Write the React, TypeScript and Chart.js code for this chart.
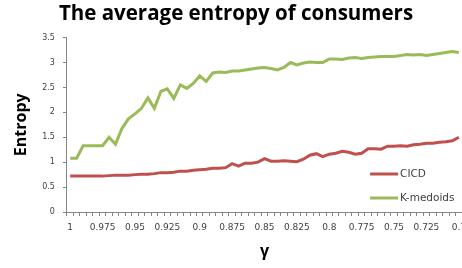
import React, { useEffect, useRef } from "react";
import { Chart, registerables } from "chart.js";

Chart.register(...registerables);

const gammaLabels = [
  "1", "0.995", "0.99", "0.985", "0.98", "0.975", "0.97", "0.965", "0.96", "0.955",
  "0.95", "0.945", "0.94", "0.935", "0.93", "0.925", "0.92", "0.915", "0.91", "0.905",
  "0.9", "0.895", "0.89", "0.885", "0.88", "0.875", "0.87", "0.865", "0.86", "0.855",
  "0.85", "0.845", "0.84", "0.835", "0.83", "0.825", "0.82", "0.815", "0.81", "0.805",
  "0.8", "0.795", "0.79", "0.785", "0.78", "0.775", "0.77", "0.765", "0.76", "0.755",
  "0.75", "0.745", "0.74", "0.735", "0.73", "0.725", "0.72", "0.715", "0.71", "0.705",
  "0.7",
];

const cicd = [
  0.72, 0.72, 0.72, 0.72, 0.72,
  0.72, 0.73, 0.74, 0.74, 0.74,
  0.75, 0.76, 0.76, 0.77, 0.79,
  0.79, 0.80, 0.82, 0.82, 0.84,
  0.85, 0.86, 0.88, 0.88, 0.89,
  0.97, 0.92, 0.98, 0.98, 1.00,
  1.07, 1.02, 1.02, 1.03, 1.02,
  1.01, 1.06, 1.14, 1.17, 1.11,
  1.16, 1.18, 1.22, 1.20, 1.16,
  1.18, 1.27, 1.27, 1.26, 1.32,
  1.32, 1.33, 1.32, 1.35, 1.36,
  1.38, 1.38, 1.40, 1.41, 1.43,
  1.50,
];

const kMedoids = [
  1.08, 1.08, 1.33, 1.33, 1.33,
  1.33, 1.50, 1.36, 1.68, 1.87,
  1.97, 2.08, 2.29, 2.08, 2.42,
  2.47, 2.28, 2.55, 2.48, 2.58,
  2.73, 2.62, 2.79, 2.81, 2.80,
  2.83, 2.83, 2.85, 2.87, 2.89,
  2.90, 2.88, 2.85, 2.90, 3.00,
  2.95, 2.99, 3.01, 3.00, 3.00,
  3.07, 3.07, 3.06, 3.09, 3.10,
  3.08, 3.10, 3.11, 3.12, 3.12,
  3.12, 3.14, 3.16, 3.15, 3.16,
  3.14, 3.16, 3.18, 3.20, 3.22,
  3.20,
];

const seriesNames = ["CICD", "K-medoids"];
const seriesColors = ["#C0504D", "#9BBB59"];

const AXIS_GRAY = "#868686";
const TEXT_GRAY = "#404040";

const legendPlugin = {
  id: "insideLegend",
  afterDatasetsDraw(chart: any) {
    const { ctx, chartArea } = chart;
    const x0 = chartArea.right - 92;
    const ys = [chartArea.bottom - 38, chartArea.bottom - 14];
    ctx.save();
    chart.data.datasets.forEach((ds: any, i: number) => {
      ctx.strokeStyle = ds.borderColor;
      ctx.lineWidth = 3;
      ctx.beginPath();
      ctx.moveTo(x0, ys[i]);
      ctx.lineTo(x0 + 28, ys[i]);
      ctx.stroke();
      ctx.fillStyle = TEXT_GRAY;
      ctx.font = "10.5px 'DejaVu Sans'";
      ctx.textBaseline = "middle";
      ctx.textAlign = "left";
      ctx.fillText(ds.label, x0 + 30, ys[i]);
    });
    ctx.restore();
  },
};

export default function App() {
  const canvasRef = useRef<HTMLCanvasElement | null>(null);

  useEffect(() => {
    if (!canvasRef.current) return;
    const chart = new Chart(canvasRef.current, {
      type: "line",
      data: {
        labels: gammaLabels,
        datasets: [
          {
            label: seriesNames[0],
            data: cicd,
            borderColor: seriesColors[0],
            backgroundColor: seriesColors[0],
            borderWidth: 3,
            pointRadius: 0,
            tension: 0,
          },
          {
            label: seriesNames[1],
            data: kMedoids,
            borderColor: seriesColors[1],
            backgroundColor: seriesColors[1],
            borderWidth: 3,
            pointRadius: 0,
            tension: 0,
          },
        ],
      },
      options: {
        responsive: false,
        animation: false,
        layout: { padding: { left: 0, right: 0, top: 0, bottom: 0 } },
        plugins: {
          legend: { display: false },
          tooltip: { enabled: false },
          title: {
            display: true,
            text: "The average entropy of consumers",
            color: "#000000",
            font: { family: "'Open Sans'", size: 20.5, weight: "bold" },
            padding: { top: 2, bottom: 11 },
          },
        },
        scales: {
          x: {
            type: "category",
            offset: true,
            grid: {
              display: true,
              offset: true,
              drawOnChartArea: false,
              drawTicks: true,
              tickLength: 4,
              color: AXIS_GRAY,
            },
            border: { display: true, color: AXIS_GRAY, width: 1 },
            ticks: {
              autoSkip: false,
              maxRotation: 0,
              minRotation: 0,
              color: TEXT_GRAY,
              padding: 6,
              font: { family: "'DejaVu Sans'", size: 9 },
              callback: (_v: any, i: number) => (i % 5 === 0 ? gammaLabels[i] : ""),
            },
            title: {
              display: true,
              text: "γ",
              color: "#000000",
              font: { family: "'Open Sans'", size: 16, weight: "bold" },
              padding: { top: 3, bottom: 7 },
            },
          },
          y: {
            min: 0,
            max: 3.5,
            grid: {
              display: true,
              drawOnChartArea: false,
              drawTicks: true,
              tickLength: 4,
              color: AXIS_GRAY,
            },
            border: { display: true, color: AXIS_GRAY, width: 1 },
            ticks: {
              stepSize: 0.5,
              color: TEXT_GRAY,
              padding: 8,
              font: { family: "'DejaVu Sans'", size: 8 },
              callback: (v: any) => String(Math.round(Number(v) * 10) / 10),
            },
            title: {
              display: true,
              text: "Entropy",
              color: "#000000",
              font: { family: "'Open Sans'", size: 16, weight: "bold" },
              padding: { top: 12, bottom: 3 },
            },
          },
        },
      },
      plugins: [legendPlugin],
    });
    return () => chart.destroy();
  }, []);

  return (
    <div
      style={{
        position: "absolute",
        left: 0,
        top: 0,
        width: 462,
        height: 268,
        overflow: "hidden",
        background: "#ffffff",
      }}
    >
      <canvas ref={canvasRef} width={472} height={268} style={{ display: "block" }} />
    </div>
  );
}
